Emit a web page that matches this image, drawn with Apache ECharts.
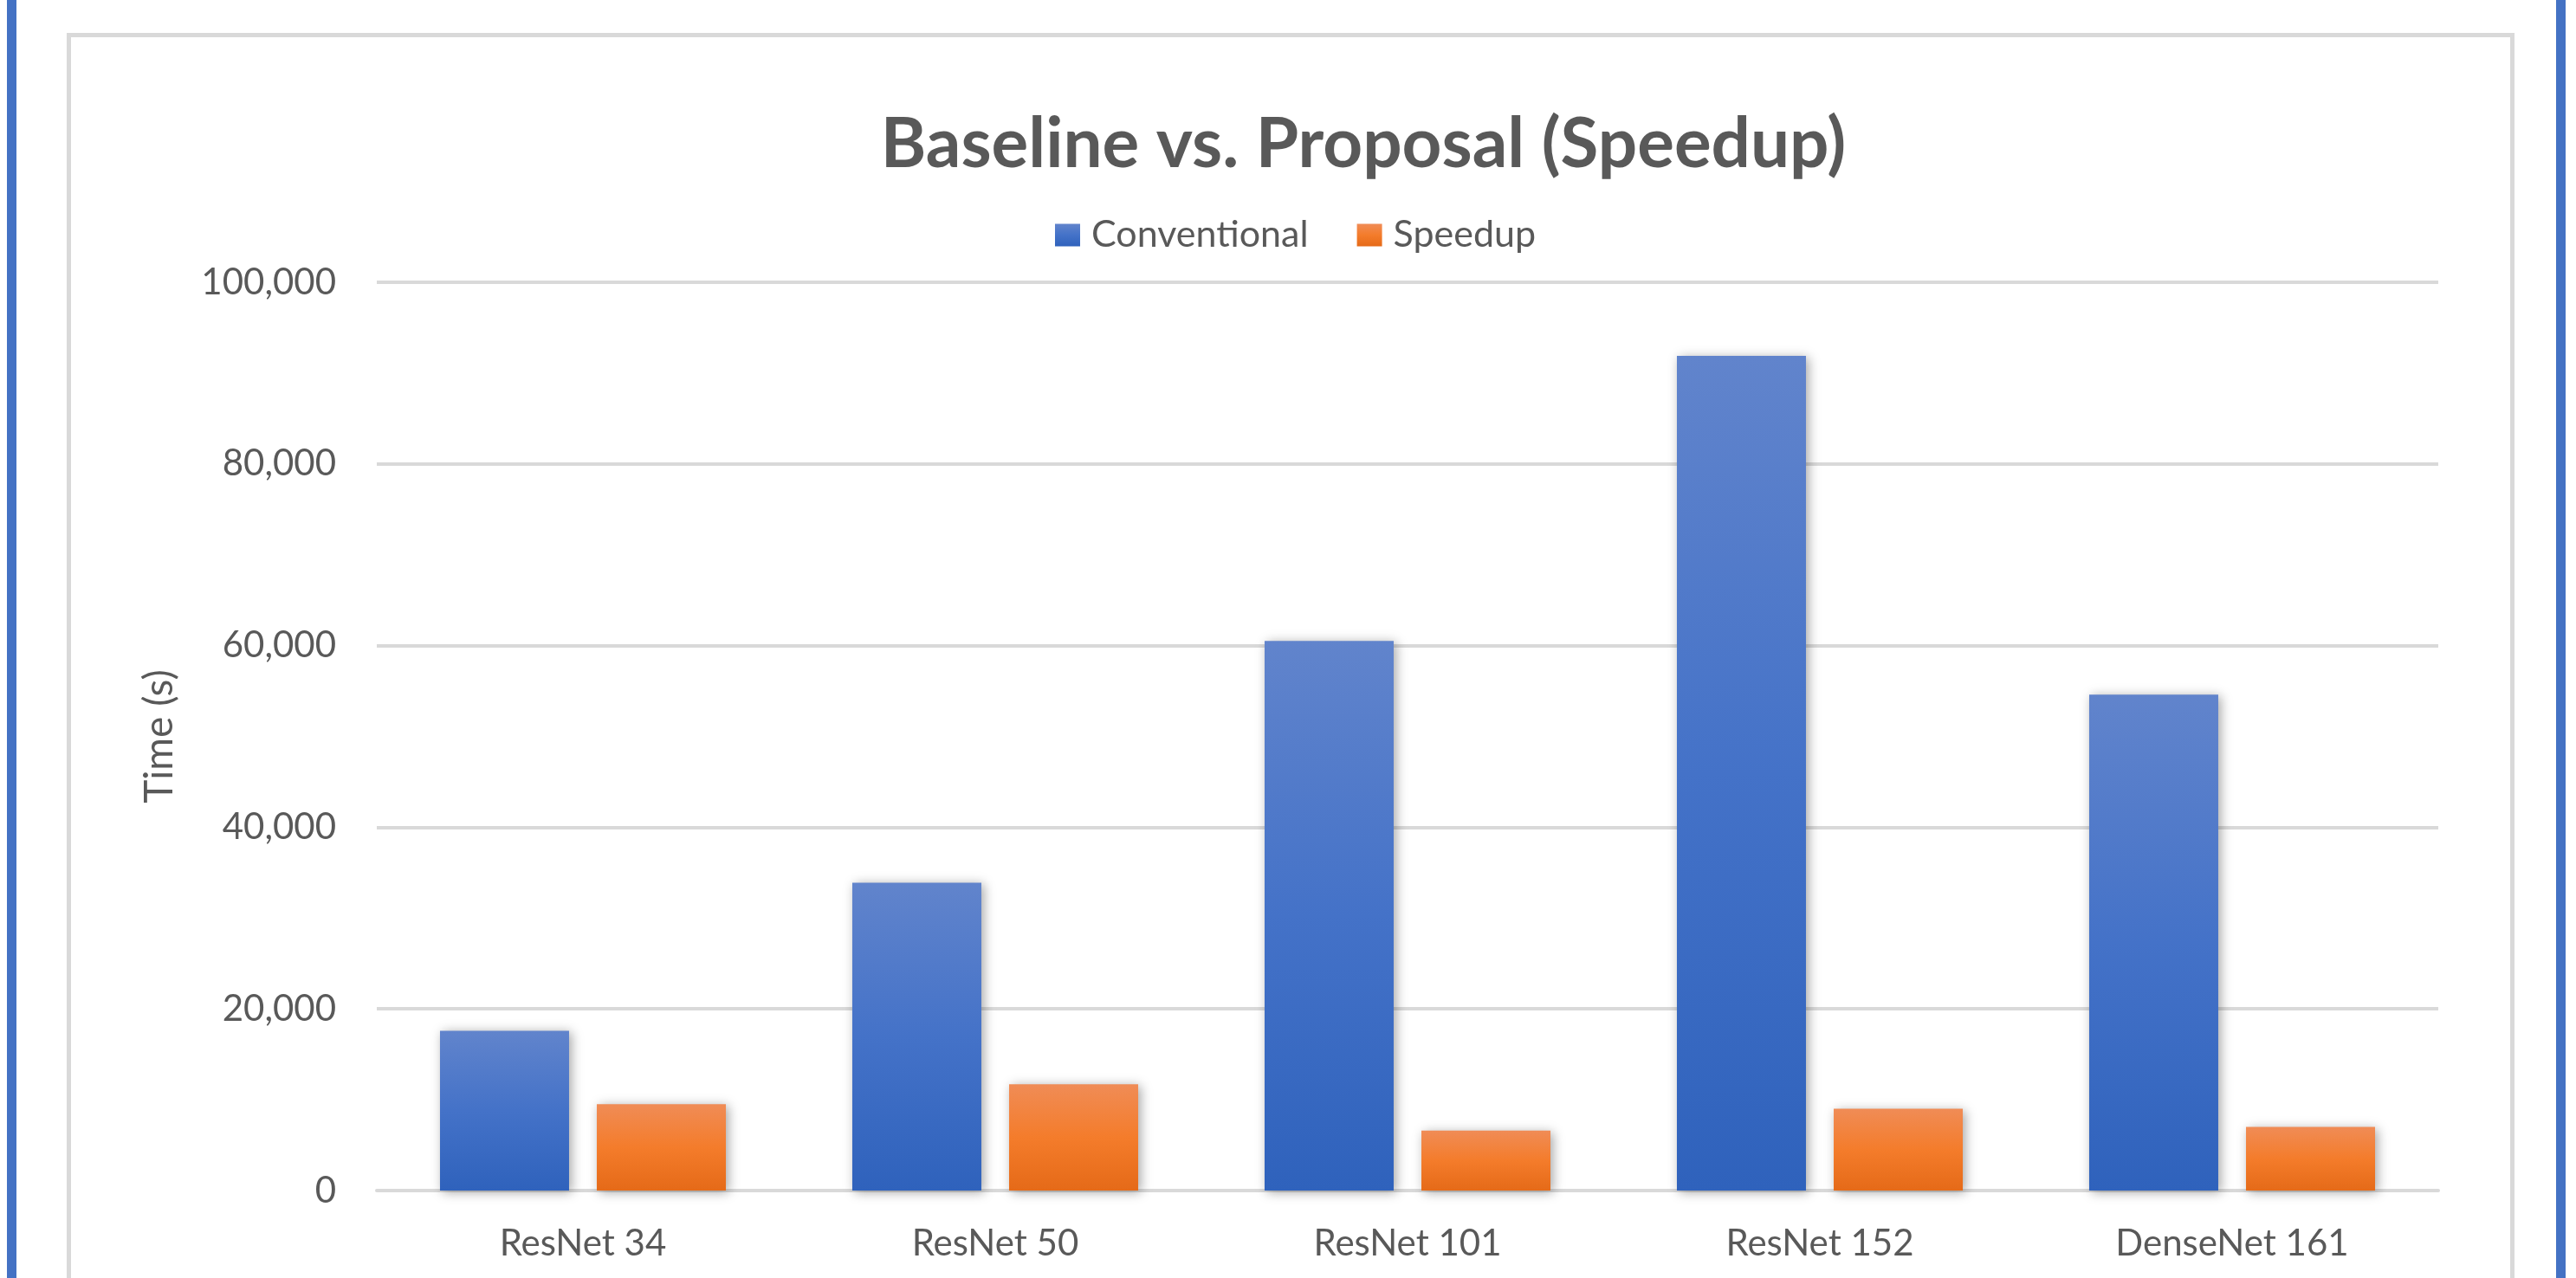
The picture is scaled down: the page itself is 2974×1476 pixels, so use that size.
<!DOCTYPE html>
<html>
<head>
<meta charset="utf-8">
<title>Baseline vs. Proposal (Speedup)</title>
<script src="https://cdn.jsdelivr.net/npm/echarts@6/dist/echarts.min.js"></script>
<style>
  html, body { margin: 0; padding: 0; background: #ffffff; }
  #chart { width: 2974px; height: 1476px; }
</style>
</head>
<body>
<div id="chart"></div>
<script>
// Models compared
const categories = ['ResNet 34', 'ResNet 50', 'ResNet 101', 'ResNet 152', 'DenseNet 161'];
// Training time in seconds
const conventional = [17600, 33900, 60500, 91900, 54600];
const speedup = [9500, 11700, 6600, 9000, 7000];
// Value axis ticks
const yTicks = [0, 20000, 40000, 60000, 80000, 100000];

const FONT = 'Lato';
const TEXT = '#595959';
const GRID = '#D9D9D9';

function vGrad(top, mid, bottom) {
  return new echarts.graphic.LinearGradient(0, 0, 0, 1, [
    { offset: 0, color: top },
    { offset: 0.5, color: mid },
    { offset: 1, color: bottom }
  ]);
}

const blueFill = vGrad('#6184CC', '#4472C8', '#2F62BC');
const orangeFill = vGrad('#F08C56', '#F47C2B', '#E56A18');

const barShadow = {
  shadowBlur: 12,
  shadowColor: 'rgba(0,0,0,0.35)',
  shadowOffsetX: 3,
  shadowOffsetY: 2
};

const chart = echarts.init(document.getElementById('chart'), null, { renderer: 'canvas' });

chart.setOption({
  backgroundColor: '#ffffff',
  animation: false,
  title: {
    text: 'Baseline vs. Proposal (Speedup)',
    left: 1574,
    top: 127,
    textAlign: 'center',
    padding: 0,
    textStyle: { fontFamily: FONT, fontWeight: 'bold', fontSize: 80, color: TEXT }
  },
  legend: {
    left: 1218,
    top: 250,
    padding: 0,
    itemWidth: 29,
    itemHeight: 26,
    itemGap: 56,
    icon: 'rect',
    textStyle: { fontFamily: FONT, fontSize: 43, color: TEXT, padding: [0, 0, 0, 8] },
    data: ['Conventional', 'Speedup']
  },
  grid: { left: 435, right: 159, top: 326, bottom: 101 },
  xAxis: {
    type: 'category',
    data: categories,
    axisLine: { show: true, lineStyle: { color: GRID, width: 4 } },
    axisTick: { show: false },
    axisLabel: { fontFamily: FONT, fontSize: 42, color: TEXT, margin: 40 }
  },
  yAxis: {
    type: 'value',
    min: yTicks[0],
    max: yTicks[yTicks.length - 1],
    interval: yTicks[1] - yTicks[0],
    name: 'Time (s)',
    nameLocation: 'middle',
    nameGap: 228,
    nameRotate: 90,
    nameTextStyle: { fontFamily: FONT, fontSize: 46, color: TEXT },
    axisLine: { show: false },
    axisTick: { show: false },
    splitLine: { show: true, lineStyle: { color: GRID, width: 4 } },
    axisLabel: {
      fontFamily: FONT, fontSize: 42, color: TEXT, margin: 47,
      formatter: v => v.toLocaleString('en-US')
    }
  },
  series: [
    {
      name: 'Conventional',
      type: 'bar',
      data: conventional,
      barWidth: 149,
      barGap: '21.5%',
      itemStyle: Object.assign({ color: blueFill }, barShadow)
    },
    {
      name: 'Speedup',
      type: 'bar',
      data: speedup,
      barWidth: 149,
      barGap: '21.5%',
      itemStyle: Object.assign({ color: orangeFill }, barShadow)
    }
  ],
  graphic: [
    // slide frame on both sides
    { type: 'rect', shape: { x: 8, y: 0, width: 11, height: 1476 }, style: { fill: '#4472C4' }, silent: true },
    { type: 'rect', shape: { x: 2951, y: 0, width: 11, height: 1476 }, style: { fill: '#4472C4' }, silent: true },
    // chart area outline
    { type: 'rect', shape: { x: 79.5, y: 40.5, width: 2821, height: 1500 },
      style: { fill: 'none', stroke: GRID, lineWidth: 5 }, silent: true }
  ]
});
</script>
</body>
</html>
